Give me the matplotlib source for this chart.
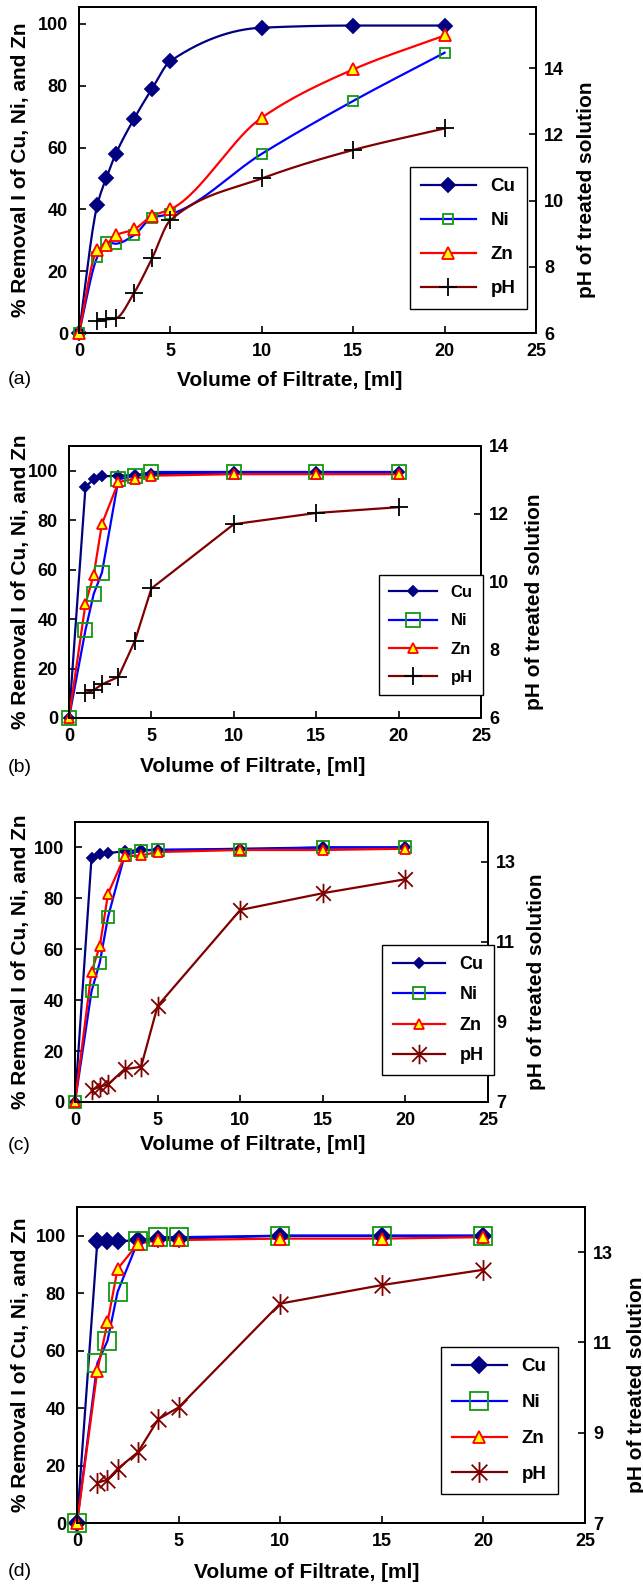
import numpy as np
import matplotlib
matplotlib.use("Agg")
import matplotlib.pyplot as plt
from matplotlib.lines import Line2D
from matplotlib.path import Path

plt.rcParams['font.family'] = ['Liberation Sans', 'DejaVu Sans']

# volume of filtrate [ml]
vol = [0, 1, 1.5, 2, 3, 4, 5, 10, 15, 20]
vol_ph = [1, 1.5, 2, 3, 4, 5, 10, 15, 20]

# panel (a)
a_cu = [0, 41.4, 50.3, 57.8, 69.2, 79.1, 88.0, 98.8, 99.5, 99.5]
a_ni = [0, 24.6, 29.5, 28.9, 31.6, 37.3, 38.5, 58.0, 75.1, 90.7]
a_zn = [0, 26.8, 28.5, 31.6, 33.5, 37.9, 40.0, 69.7, 85.3, 96.3]
a_ph = [6.36, 6.41, 6.44, 7.2, 8.26, 9.41, 10.67, 11.53, 12.18]

# panel (b)
b_cu = [0, 93.4, 96.6, 97.7, 98.0, 98.2, 98.6, 99.3, 99.3, 99.3]
b_ni = [0, 35.6, 50.2, 58.8, 96.5, 98.0, 99.5, 99.5, 99.5, 99.5]
b_zn = [0, 46.2, 57.9, 78.5, 95.4, 96.8, 98.0, 98.6, 98.6, 98.6]
b_ph = [6.74, 6.82, 6.99, 7.21, 8.27, 9.81, 11.7, 12.03, 12.2]

# panel (c)
c_cu = [0, 96.0, 97.5, 97.8, 98.5, 99.0, 99.0, 99.5, 100, 100]
c_ni = [0, 43.5, 54.8, 72.7, 96.9, 98.8, 99.1, 99.1, 100, 100]
c_zn = [0, 51.1, 61.2, 81.8, 96.5, 96.9, 98.2, 99.0, 99.0, 99.5]
c_ph = [7.3, 7.38, 7.44, 7.82, 7.88, 9.4, 11.8, 12.22, 12.57]

# panel (d)
d_cu = [0, 98, 98, 98, 98.5, 99, 99, 100, 100, 100]
d_ni = [0, 55.6, 63.4, 80.5, 98, 99.5, 99.5, 100, 100, 100]
d_zn = [0, 52.9, 69.8, 88.5, 97.2, 98.5, 98.5, 99, 99, 99.5]
d_ph = [7.89, 7.96, 8.2, 8.57, 9.3, 9.56, 11.86, 12.27, 12.61]

xticks = [0, 5, 10, 15, 20, 25]
left_ticks = [0, 20, 40, 60, 80, 100]

W, H = 643, 1585

# asterisk like the matlab '*' marker
star = Path([(0, -1), (0, 1), (-0.75, -0.75), (0.75, 0.75), (-0.75, 0.75), (0.75, -0.75)],
            [Path.MOVETO, Path.LINETO, Path.MOVETO, Path.LINETO, Path.MOVETO, Path.LINETO])


def smooth(x, y, n=300):
    # monotone cubic (pchip) through the points, only for drawing the line
    x = np.asarray(x, float)
    y = np.asarray(y, float)
    h = np.diff(x)
    d = np.diff(y) / h
    m = np.zeros_like(y)
    for k in range(1, len(x) - 1):
        if d[k - 1] * d[k] > 0:
            w1 = 2 * h[k] + h[k - 1]
            w2 = h[k] + 2 * h[k - 1]
            m[k] = (w1 + w2) / (w1 / d[k - 1] + w2 / d[k])
    m[0] = d[0]
    m[-1] = d[-1]
    xs = np.linspace(x[0], x[-1], n)
    i = np.clip(np.searchsorted(x, xs) - 1, 0, len(x) - 2)
    t = (xs - x[i]) / h[i]
    ys = ((2 * t**3 - 3 * t**2 + 1) * y[i] + (t**3 - 2 * t**2 + t) * h[i] * m[i]
          + (-2 * t**3 + 3 * t**2) * y[i + 1] + (t**3 - t**2) * h[i] * m[i + 1])
    return xs, ys


def series(ax, x, y, label, lc, mk, ms, mfc, mec, curved, mew=1.3):
    if curved:
        xs, ys = smooth(x, y)
    else:
        xs, ys = x, y
    ax.plot(xs, ys, color=lc, lw=1.6, zorder=2)
    ax.plot(x, y, ls='none', marker=mk, ms=ms, mfc=mfc, mec=mec, mew=mew, clip_on=False, zorder=3)
    return Line2D([], [], color=lc, lw=1.6, marker=mk, ms=ms, mfc=mfc, mec=mec, mew=mew, label=label)


panels = [
    dict(box=(79, 7, 536, 333), cu=a_cu, ni=a_ni, zn=a_zn, ph=a_ph, ylim=105.5,
         rlim=(6, 15.85), rticks=[6, 8, 10, 12, 14], letter='(a)', ly=380, xlx=290, rlx=586,
         ms=(7, 6.5, 8, 13), phmk='+', phc='black', curved=True,
         leg=(410, 167), legfs=13.5, legsp=0.9),
    dict(box=(69, 446, 481, 718), cu=b_cu, ni=b_ni, zn=b_zn, ph=b_ph, ylim=110,
         rlim=(6, 14), rticks=[6, 8, 10, 12, 14], letter='(b)', ly=767, xlx=253, rlx=535,
         ms=(5, 10, 6.5, 13), phmk='+', phc='black', curved=False,
         leg=(379, 575), legfs=12, legsp=0.8),
    dict(box=(75, 822, 488, 1102), cu=c_cu, ni=c_ni, zn=c_zn, ph=c_ph, ylim=110,
         rlim=(7, 14), rticks=[7, 9, 11, 13], letter='(c)', ly=1145, xlx=253, rlx=537,
         ms=(5, 8, 6.5, 14), phmk=star, phc='#800000', curved=False,
         leg=(382, 945), legfs=13, legsp=0.75),
    dict(box=(77, 1207, 585, 1523), cu=d_cu, ni=d_ni, zn=d_zn, ph=d_ph, ylim=110,
         rlim=(7, 14), rticks=[7, 9, 11, 13], letter='(d)', ly=1572, xlx=307, rlx=636,
         ms=(8, 13, 8.5, 15), phmk=star, phc='#800000', curved=False,
         leg=(441, 1347), legfs=13.5, legsp=1.0),
]

fig = plt.figure(figsize=(W / 100, H / 100), dpi=100)

for p in panels:
    l, t, r, b = p['box']
    ax = fig.add_axes([l / W, 1 - b / H, (r - l) / W, (b - t) / H])
    ax2 = ax.twinx()
    ms_cu, ms_ni, ms_zn, ms_ph = p['ms']

    h_cu = series(ax, vol, p['cu'], 'Cu', '#000080', 'D', ms_cu, '#000080', '#000080', p['curved'])
    h_ni = series(ax, vol, p['ni'], 'Ni', '#0000ff', 's', ms_ni, 'none', '#119911', p['curved'])
    h_zn = series(ax, vol, p['zn'], 'Zn', '#ff0000', '^', ms_zn, '#ffff00', '#ff0000', p['curved'])
    h_ph = series(ax2, vol_ph, p['ph'], 'pH', '#800000', p['phmk'], ms_ph, 'none', p['phc'],
                  p['curved'], mew=1.3)

    ax.set_xlim(0, 25)
    ax.set_ylim(0, p['ylim'])
    ax.set_xticks(xticks)
    ax.set_yticks(left_ticks)
    ax2.set_ylim(*p['rlim'])
    ax2.set_yticks(p['rticks'])

    for a in (ax, ax2):
        for s in a.spines.values():
            s.set_linewidth(1.4)
        a.tick_params(direction='in', length=5, width=1.2, labelsize=13)
        for lab in a.get_xticklabels() + a.get_yticklabels():
            lab.set_fontweight('bold')
    ax.tick_params(axis='x', pad=7, top=False)
    ax.tick_params(axis='y', pad=8, right=False)
    ax2.tick_params(axis='y', pad=6)

    cy = 1 - (t + b) / 2 / H
    fig.text(21 / W, cy, '% Removal I of Cu, Ni, and Zn', rotation=90, ha='center', va='center',
             fontsize=15, fontweight='bold')
    fig.text(p['rlx'] / W, cy - 20 / H, 'pH of treated solution', rotation=90, ha='center',
             va='center', fontsize=15, fontweight='bold')
    fig.text(p['xlx'] / W, 1 - p['ly'] / H, 'Volume of Filtrate, [ml]', ha='center', va='center',
             fontsize=15, fontweight='bold')
    fig.text(8 / W, 1 - p['ly'] / H, p['letter'], ha='left', va='center', fontsize=14)

    lx, ly = p['leg']
    leg = ax2.legend(handles=[h_cu, h_ni, h_zn, h_ph], loc='upper left',
                     bbox_to_anchor=(lx / W, 1 - ly / H), bbox_transform=fig.transFigure,
                     borderaxespad=0, fancybox=False, framealpha=1, edgecolor='black',
                     handlelength=2.9, labelspacing=p['legsp'], borderpad=0.6,
                     prop=dict(size=p['legfs'], weight='bold'))
    leg.get_frame().set_linewidth(1.0)

fig.savefig('out.png', dpi=100)
